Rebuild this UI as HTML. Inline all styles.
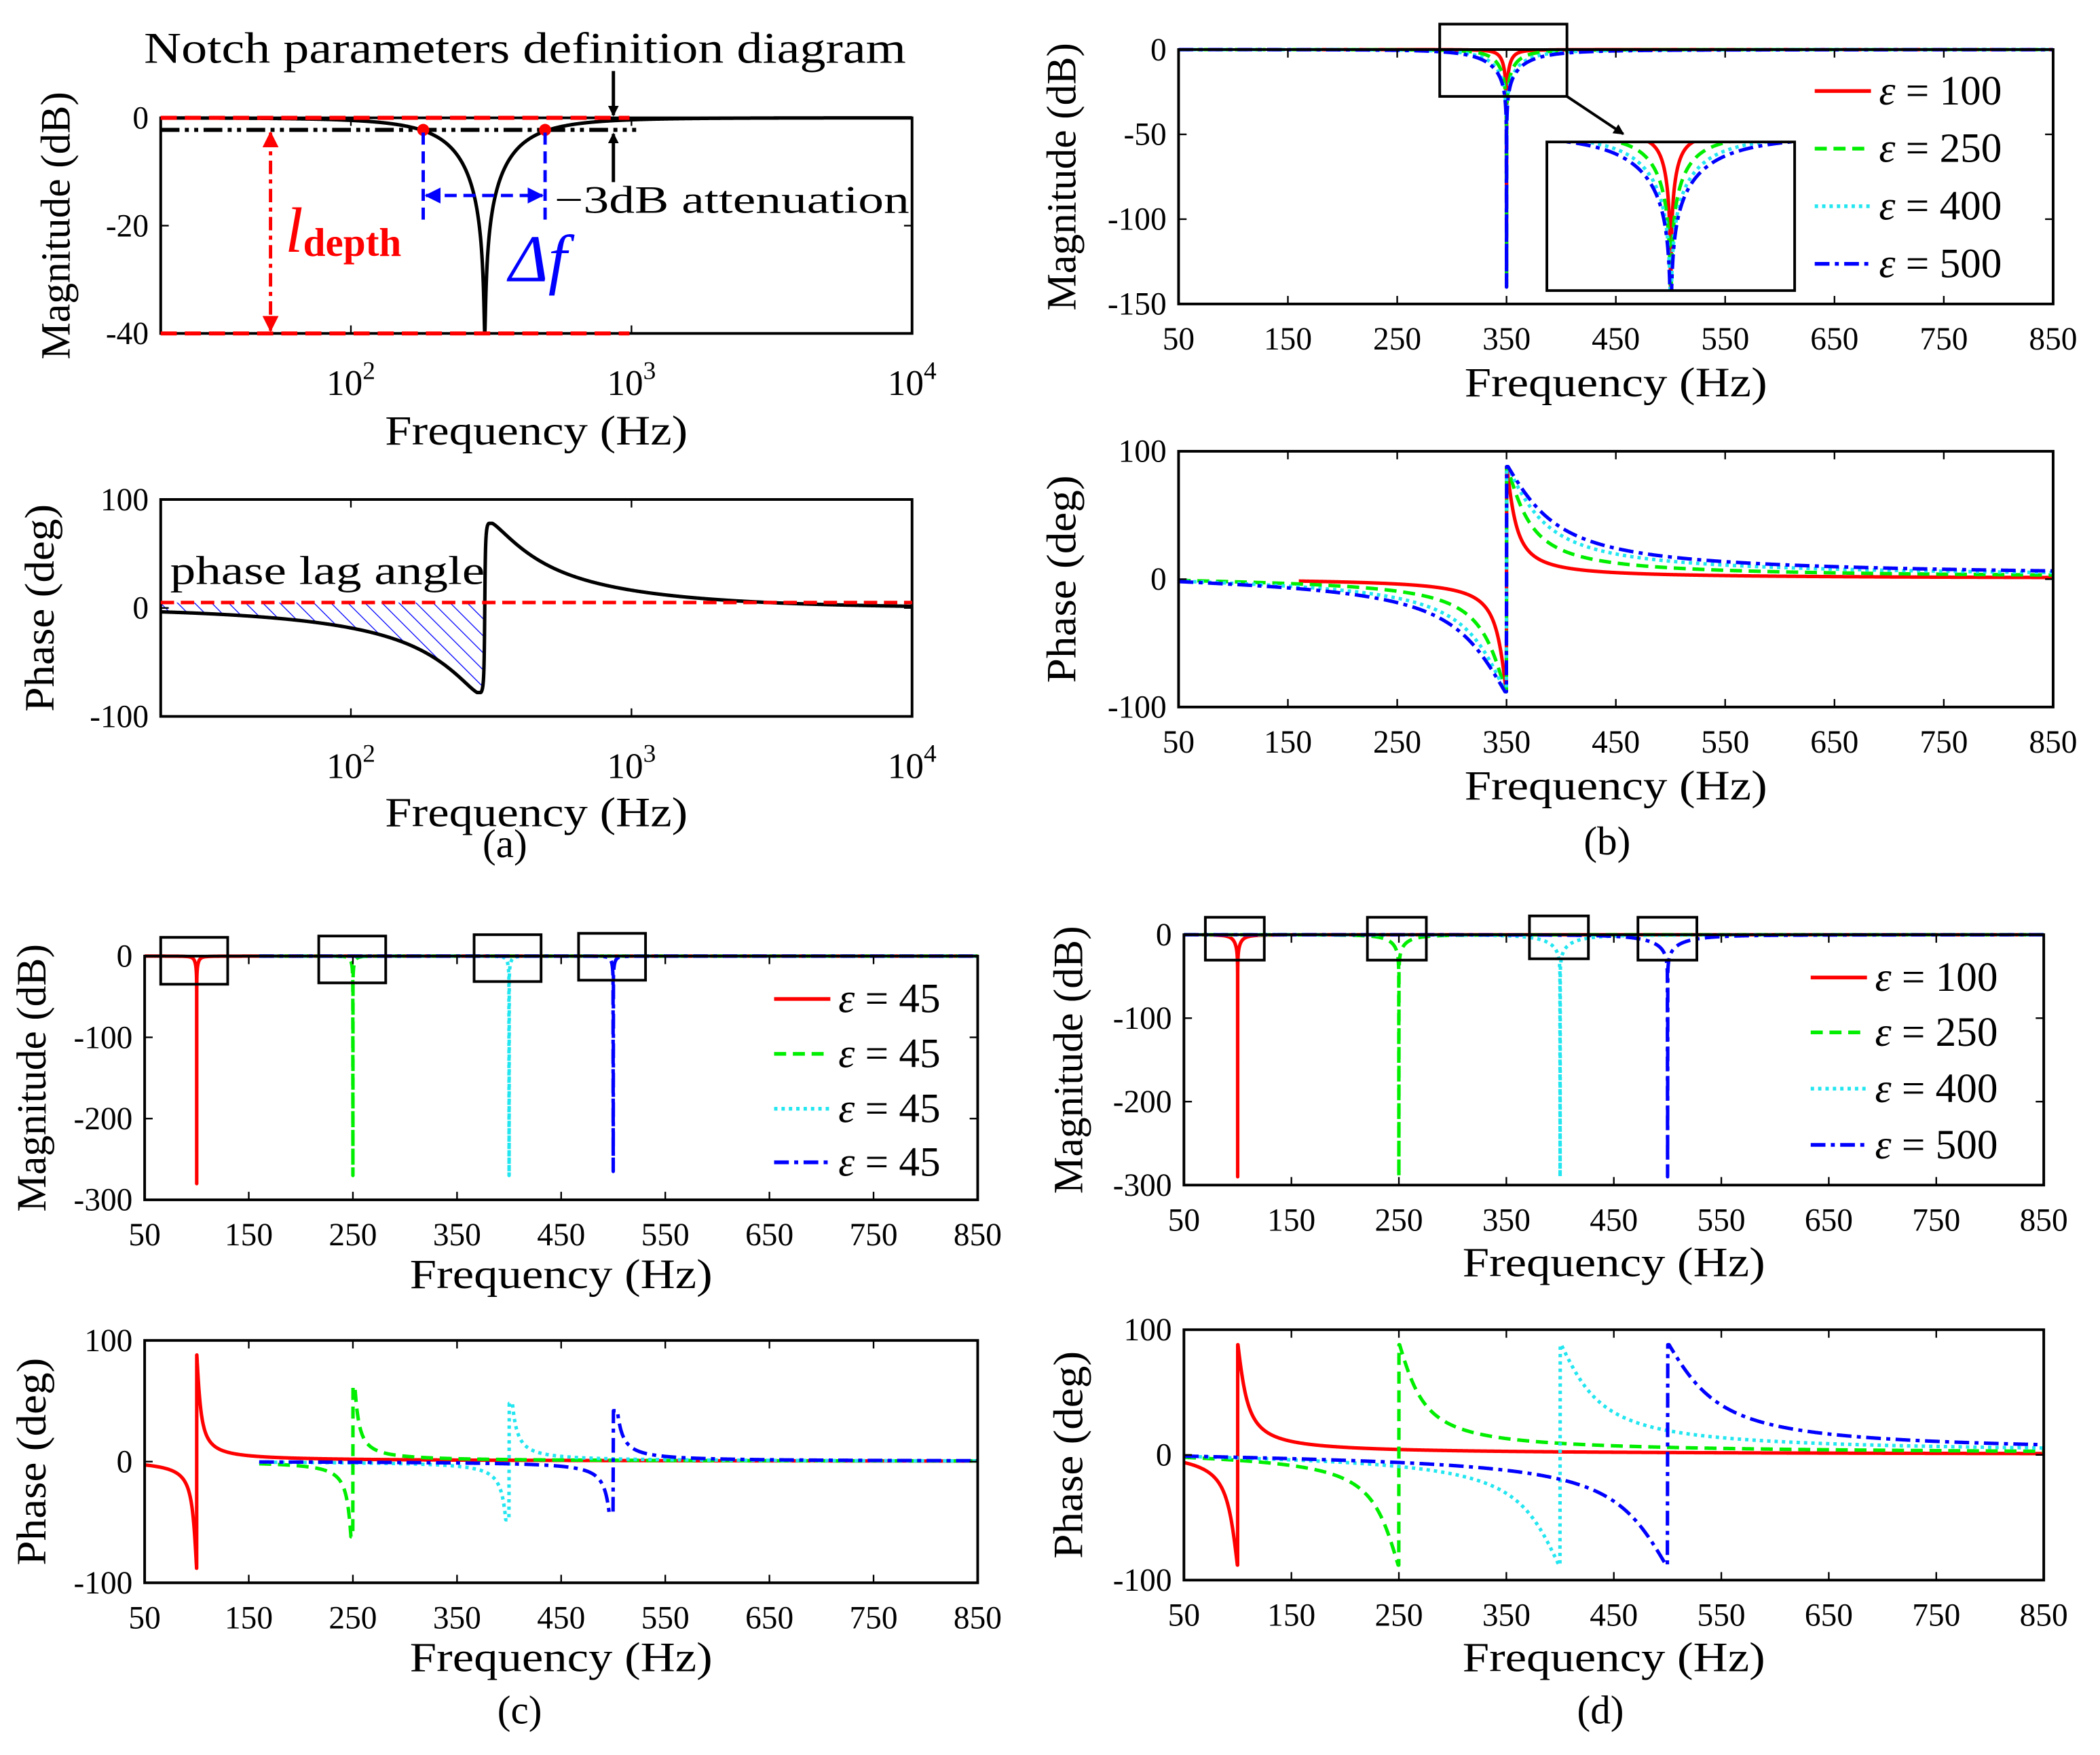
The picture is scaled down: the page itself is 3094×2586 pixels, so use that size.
<!DOCTYPE html>
<html><head><meta charset="utf-8"><style>
html,body{margin:0;padding:0;background:#fff}
svg{display:block}
text{font-family:"Liberation Serif",serif;fill:#000}
</style></head><body>
<svg id="fig" xmlns="http://www.w3.org/2000/svg" width="3094" height="2586" viewBox="0 0 1568 1310.6" preserveAspectRatio="none">
<defs>
<pattern id="hatch" width="9" height="9" patternUnits="userSpaceOnUse" patternTransform="rotate(-45)">
<line x1="0" y1="0" x2="0" y2="9" stroke="#0000ff" stroke-width="1.3"/>
</pattern>
<marker id="arrK" markerWidth="8" markerHeight="8" refX="7" refY="4" orient="auto" markerUnits="userSpaceOnUse"><path d="M0,0 L8,4 L0,8 z" fill="#000"/></marker>
<marker id="arrR" markerWidth="12" markerHeight="12" refX="11" refY="6" orient="auto-start-reverse" markerUnits="userSpaceOnUse"><path d="M0,0 L12,6 L0,12 z" fill="#f00"/></marker>
<marker id="arrB" markerWidth="12" markerHeight="12" refX="11" refY="6" orient="auto-start-reverse" markerUnits="userSpaceOnUse"><path d="M0,0 L12,6 L0,12 z" fill="#00f"/></marker>
</defs>
<g id="layer"></g>
<text x="392" y="47" font-size="33" text-anchor="middle" textLength="569" lengthAdjust="spacingAndGlyphs">Notch parameters definition diagram</text>
<text x="377" y="640" font-size="30" text-anchor="middle">(a)</text>
<text x="1200" y="638" font-size="30" text-anchor="middle">(b)</text>
<text x="388" y="1287" font-size="30" text-anchor="middle">(c)</text>
<text x="1195" y="1287" font-size="30" text-anchor="middle">(d)</text>
</svg>
<script>
// ---- data ----
const aFreqs=[300]; const aZeta=[0.45]; const aDepth=[40]; const aPeak=[78];
const bFreqs=[350,350,350,350]; const bEps=[100,250,400,500]; const bDepth=[140,140,140,140]; const bPeak=[88,88,88,88]; const bStart=[160,50,50,50];
const cFreqs=[100,250,400,500]; const cEps=[45,45,45,45]; const cDepth=[280,270,270,265]; const cPeak=[88,62,48,42]; const cStart=[50,160,160,160];
const dFreqs=[100,250,400,500]; const dEps=[100,250,400,500]; const dDepth=[290,290,290,290]; const dPeak=[88,88,88,88]; const dStart=[50,50,50,50];
const linTicks=[50,150,250,350,450,550,650,750,850];
const legendB=["100","250","400","500"]; const legendC=["45","45","45","45"];
const colors=["#ff0000","#00ee00","#22e6f0","#0000ff"];
const dashes=["","9 5","2.5 3","11 4 3 4"];
const NS="http://www.w3.org/2000/svg";
const layer=document.getElementById('layer');
function mk(tag,attrs,parent){const e=document.createElementNS(NS,tag);for(const k in attrs)e.setAttribute(k,attrs[k]);(parent||layer).appendChild(e);return e;}
function resp(f,f0,z2,depth){const r=f/f0;const z1=z2*Math.pow(10,-depth/20);const a=1-r*r;
 const mag=20*Math.log10(Math.sqrt(a*a+(2*z1*r)**2)/Math.sqrt(a*a+(2*z2*r)**2));
 let ph=(Math.atan2(2*z1*r,a)-Math.atan2(2*z2*r,a))*180/Math.PI;return [Math.max(mag,-depth),ph];}
function makeAxes(c){
 const g=mk('g',{});
 c.sx=c.log?(f=>c.x0+(Math.log10(f)-Math.log10(c.xmin))/(Math.log10(c.xmax)-Math.log10(c.xmin))*(c.x1-c.x0)):(f=>c.x0+(f-c.xmin)/(c.xmax-c.xmin)*(c.x1-c.x0));
 c.sy=v=>c.y0+(c.ymax-v)/(c.ymax-c.ymin)*(c.y1-c.y0);
 c.g=g;
 const cid='clip'+c.name;const cp=mk('clipPath',{id:cid},g);mk('rect',{x:c.x0,y:c.y0-2,width:c.x1-c.x0,height:c.y1-c.y0+4},cp);
 c.cg=mk('g',{'clip-path':'url(#'+cid+')'},g);
 c.xt.forEach(t=>{const x=c.sx(t);mk('line',{x1:x,x2:x,y1:c.y1,y2:c.y1-6,stroke:'#000','stroke-width':1.2},g);mk('line',{x1:x,x2:x,y1:c.y0,y2:c.y0+6,stroke:'#000','stroke-width':1.2},g);
  const tx=mk('text',{x:x,y:c.y1+(c.log?46:34),'font-size':c.log?27:24,'text-anchor':'middle'},g);
  
  if(c.log){tx.textContent='10';const s=mk('tspan',{dy:-12,'font-size':19},tx);s.textContent=String(Math.round(Math.log10(t)));}else tx.textContent=String(t);});
 c.yt.forEach(t=>{const y=c.sy(t);mk('line',{x1:c.x0,x2:c.x0+6,y1:y,y2:y,stroke:'#000','stroke-width':1.2},g);mk('line',{x1:c.x1,x2:c.x1-6,y1:y,y2:y,stroke:'#000','stroke-width':1.2},g);
  const tx=mk('text',{x:c.x0-9,y:y+8,'font-size':24,'text-anchor':'end'},g);tx.textContent=String(t);
  });
 const xt=mk('text',{x:(c.x0+c.x1)/2,y:c.xtY,'font-size':31,'text-anchor':'middle',textLength:226,lengthAdjust:'spacingAndGlyphs'},g);xt.textContent='Frequency (Hz)';
 
 const yy=(c.y0+c.y1)/2;const yt=mk('text',{x:c.ytX,y:yy,'font-size':31,'text-anchor':'middle',textLength:c.ytitle.startsWith('Mag')?200:155,lengthAdjust:'spacingAndGlyphs',transform:'rotate(-90 '+c.ytX+' '+yy+')'},g);yt.textContent=c.ytitle;
 
 return c;}
function frame(c){const r=mk('rect',{x:c.x0,y:c.y0,width:c.x1-c.x0,height:c.y1-c.y0,fill:'none',stroke:'#000','stroke-width':2},c.g);}
function samples(c,start,f0){const pts=[];const N=1600;const a=start,b=c.xmax;
 for(let i=0;i<=N;i++){pts.push(c.log?Math.pow(10,Math.log10(a)+(Math.log10(b)-Math.log10(a))*i/N):a+(b-a)*i/N);}
 for(let k=-30;k<=30;k++)pts.push(f0*(1+k*0.0004));pts.push(f0);
 return pts.filter(f=>f>=a&&f<=b).sort((p,q)=>p-q);}
function curve(c,f0,z,depth,peak,start,which,color,dash,name){
 const pts=samples(c,start,f0);let d='';
 pts.forEach((f,i)=>{let [m,p]=resp(f,f0,z,depth);p=Math.max(-peak,Math.min(peak,p));const v=which==='mag'?m:p;d+=(i?'L':'M')+c.sx(f).toFixed(2)+','+c.sy(v).toFixed(2);});
 const e=mk('path',{d:d,fill:'none',stroke:color,'stroke-width':2.6,'stroke-dasharray':dash,'stroke-linejoin':'round'},c.cg);
 return e;}
function legend(x,ys,labels){labels.forEach((l,i)=>{
 const ln=mk('line',{x1:x,x2:x+42,y1:ys[i],y2:ys[i],stroke:colors[i],'stroke-width':2.8,'stroke-dasharray':dashes[i]});
 
 const t=mk('text',{x:x+48,y:ys[i]+10,'font-size':31});
 const e=mk('tspan',{'font-style':'italic'},t);e.textContent='ε';const r=mk('tspan',{},t);r.textContent=' = '+l;});}
function box(x,y,w,h){const r=mk('rect',{x:x,y:y,width:w,height:h,fill:'none',stroke:'#000','stroke-width':2});}

// ---- panel a ----
const A1=makeAxes({name:'panel-a-magnitude',x0:120,x1:681,y0:88,y1:249,log:true,xmin:21,xmax:1e4,ymin:-40,ymax:0,xt:[100,1000,10000],yt:[0,-20,-40],xtY:332,ytX:52,ytitle:'Magnitude (dB)'});
curve(A1,aFreqs[0],aZeta[0],aDepth[0],aPeak[0],21,'mag','#000','','magnitude-curve-a');
frame(A1);
const A2=makeAxes({name:'panel-a-phase',x0:120,x1:681,y0:373,y1:535,log:true,xmin:21,xmax:1e4,ymin:-100,ymax:100,xt:[100,1000,10000],yt:[100,0,-100],xtY:617,ytX:40,ytitle:'Phase (deg)'});
(function(){const yl=A2.sy(5);let d='M'+A2.x0+','+yl;const pts=samples(A2,21,aFreqs[0]).filter(f=>f<=aFreqs[0]*0.9996);
 pts.forEach(f=>{let p=resp(f,aFreqs[0],aZeta[0],aDepth[0])[1];p=Math.min(5,Math.max(-aPeak[0],p));d+='L'+A2.sx(f).toFixed(2)+','+A2.sy(p).toFixed(2);});
 d+='L'+A2.sx(aFreqs[0]*0.9996)+','+yl+'Z';const h=mk('path',{d:d,fill:'url(#hatch)',stroke:'none'},A2.cg);})();
curve(A2,aFreqs[0],aZeta[0],aDepth[0],aPeak[0],21,'ph','#000','','phase-curve-a');
mk('line',{x1:120,x2:681,y1:A2.sy(5),y2:A2.sy(5),stroke:'#f00','stroke-width':2.6,'stroke-dasharray':'10 5'});
frame(A2);
const pl=mk('text',{x:127,y:436,'font-size':30,textLength:235,lengthAdjust:'spacingAndGlyphs'});pl.textContent='phase lag angle';
mk('line',{x1:120,x2:470,y1:88,y2:88,stroke:'#f00','stroke-width':3,'stroke-dasharray':'12 6'});
mk('line',{x1:120,x2:470,y1:249,y2:249,stroke:'#f00','stroke-width':3,'stroke-dasharray':'12 6'});
mk('line',{x1:120,x2:475,y1:97,y2:97,stroke:'#000','stroke-width':3,'stroke-dasharray':'14 4 3 4 3 4'});
mk('line',{x1:202,x2:202,y1:99,y2:247,stroke:'#f00','stroke-width':2.5,'stroke-dasharray':'10 4 3 4','marker-start':'url(#arrR)','marker-end':'url(#arrR)'});
mk('circle',{cx:316,cy:97,r:4.5,fill:'#f00'});mk('circle',{cx:407,cy:97,r:4.5,fill:'#f00'});
mk('line',{x1:316,x2:316,y1:99,y2:165,stroke:'#00f','stroke-width':2.5,'stroke-dasharray':'9 5'});
mk('line',{x1:407,x2:407,y1:99,y2:165,stroke:'#00f','stroke-width':2.5,'stroke-dasharray':'9 5'});
mk('line',{x1:318,x2:405,y1:146,y2:146,stroke:'#00f','stroke-width':2.5,'stroke-dasharray':'9 5','marker-start':'url(#arrB)','marker-end':'url(#arrB)'});
mk('line',{x1:458,x2:458,y1:53,y2:86,stroke:'#000','stroke-width':2.5,'marker-end':'url(#arrK)'});
mk('line',{x1:458,x2:458,y1:136,y2:100,stroke:'#000','stroke-width':2.5,'marker-end':'url(#arrK)'});
(function(){let t=mk('text',{x:213,y:188,'font-size':48,'font-style':'italic'});t.style.fill='#f00';
 t.textContent='l';const s=mk('tspan',{'font-size':30,'font-weight':'bold','font-style':'normal',dy:3},t);s.textContent='depth';
 let u=mk('text',{x:380,y:210,'font-size':50,'font-style':'italic'});u.style.fill='#00f';u.textContent='Δf';
 let w=mk('text',{x:414,y:159,'font-size':29,textLength:265,lengthAdjust:'spacingAndGlyphs'});w.textContent='−3dB attenuation';})();

// ---- panel b ----
const B1=makeAxes({name:'panel-b-magnitude',x0:880,x1:1533,y0:37,y1:227,xmin:50,xmax:850,ymin:-150,ymax:0,xt:linTicks,yt:[0,-50,-100,-150],xtY:296,ytX:803,ytitle:'Magnitude (dB)'});
bFreqs.forEach((f0,i)=>curve(B1,f0,bEps[i]/(4*Math.PI*f0),bDepth[i],bPeak[i],bStart[i],'mag',colors[i],dashes[i],'magnitude-curve-b-'+bEps[i]));
frame(B1);
box(1075,18,95,54);
mk('line',{x1:1170,x2:1212,y1:72,y2:100,stroke:'#000','stroke-width':2,'marker-end':'url(#arrK)'});
(function(){const I={name:'inset-b',x0:1155,x1:1340,y0:106,y1:217,xmin:292,xmax:408,ymin:-40,ymax:-2};
 I.sx=f=>I.x0+(f-I.xmin)/(I.xmax-I.xmin)*(I.x1-I.x0);I.sy=v=>I.y0+(I.ymax-v)/(I.ymax-I.ymin)*(I.y1-I.y0);
 const cp=mk('clipPath',{id:'clipinset'});mk('rect',{x:I.x0,y:I.y0,width:I.x1-I.x0,height:I.y1-I.y0},cp);
 mk('rect',{x:I.x0,y:I.y0,width:I.x1-I.x0,height:I.y1-I.y0,fill:'#fff'});
 I.cg=mk('g',{'clip-path':'url(#clipinset)'});I.g=I.cg;
 bFreqs.forEach((f0,i)=>curve(I,f0,bEps[i]/(4*Math.PI*f0),bDepth[i],bPeak[i],I.xmin,'mag',colors[i],dashes[i],'inset-curve-'+bEps[i]));
 box(I.x0,I.y0,I.x1-I.x0,I.y1-I.y0);})();
legend(1355,[68,111,154,197],legendB);
const B2=makeAxes({name:'panel-b-phase',x0:880,x1:1533,y0:337,y1:528,xmin:50,xmax:850,ymin:-100,ymax:100,xt:linTicks,yt:[100,0,-100],xtY:597,ytX:803,ytitle:'Phase (deg)'});
bFreqs.forEach((f0,i)=>curve(B2,f0,bEps[i]/(4*Math.PI*f0),bDepth[i],bPeak[i],bStart[i],'ph',colors[i],dashes[i],'phase-curve-b-'+bEps[i]));
frame(B2);

// ---- panel c ----
const C1=makeAxes({name:'panel-c-magnitude',x0:108,x1:730,y0:714,y1:896,xmin:50,xmax:850,ymin:-300,ymax:0,xt:linTicks,yt:[0,-100,-200,-300],xtY:962,ytX:34,ytitle:'Magnitude (dB)'});
cFreqs.forEach((f0,i)=>curve(C1,f0,cEps[i]/(4*Math.PI*f0),cDepth[i],cPeak[i],cStart[i],'mag',colors[i],dashes[i],'magnitude-curve-c-'+f0));
frame(C1);
[[120,700],[238,699],[354,698],[432,697]].forEach(p=>box(p[0],p[1],50,35));
legend(578,[746,787,828,868],legendC);
const C2=makeAxes({name:'panel-c-phase',x0:108,x1:730,y0:1001,y1:1182,xmin:50,xmax:850,ymin:-100,ymax:100,xt:linTicks,yt:[100,0,-100],xtY:1248,ytX:34,ytitle:'Phase (deg)'});
cFreqs.forEach((f0,i)=>curve(C2,f0,cEps[i]/(4*Math.PI*f0),cDepth[i],cPeak[i],cStart[i],'ph',colors[i],dashes[i],'phase-curve-c-'+f0));
frame(C2);

// ---- panel d ----
const D1=makeAxes({name:'panel-d-magnitude',x0:884,x1:1526,y0:698,y1:885,xmin:50,xmax:850,ymin:-300,ymax:0,xt:linTicks,yt:[0,-100,-200,-300],xtY:953,ytX:808,ytitle:'Magnitude (dB)'});
dFreqs.forEach((f0,i)=>curve(D1,f0,dEps[i]/(4*Math.PI*f0),dDepth[i],dPeak[i],dStart[i],'mag',colors[i],dashes[i],'magnitude-curve-d-'+dEps[i]));
frame(D1);
[[900,685],[1021,685],[1142,684],[1223,685]].forEach(p=>box(p[0],p[1],44,32));
legend(1352,[730,771,813,855],legendB);
const D2=makeAxes({name:'panel-d-phase',x0:884,x1:1526,y0:993,y1:1180,xmin:50,xmax:850,ymin:-100,ymax:100,xt:linTicks,yt:[100,0,-100],xtY:1248,ytX:808,ytitle:'Phase (deg)'});
dFreqs.forEach((f0,i)=>curve(D2,f0,dEps[i]/(4*Math.PI*f0),dDepth[i],dPeak[i],dStart[i],'ph',colors[i],dashes[i],'phase-curve-d-'+dEps[i]));
frame(D2);
</script>
</body></html>
